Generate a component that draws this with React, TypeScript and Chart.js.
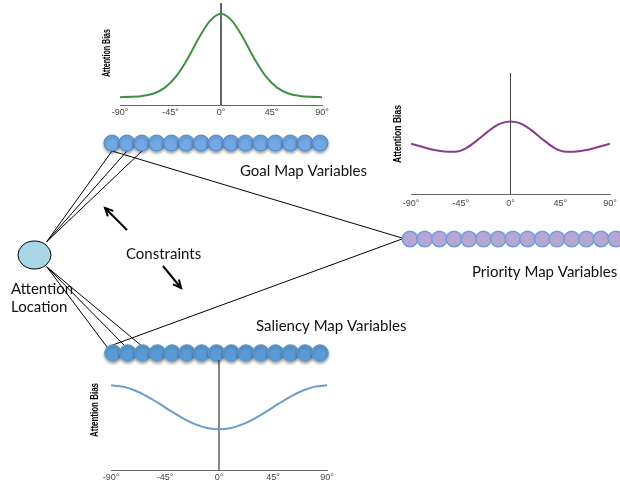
import React, { useEffect, useRef } from "react";
import { Chart, registerables } from "chart.js";
Chart.register(...registerables);

// ---------- data ----------
const angles = [-90, -80, -70, -60, -50, -40, -30, -20, -10, 0, 10, 20, 30, 40, 50, 60, 70, 80, 90];
const goalBias = [0.077, 0.08, 0.089, 0.113, 0.17, 0.28, 0.449, 0.652, 0.823, 0.894, 0.823, 0.652, 0.449, 0.28, 0.17, 0.113, 0.089, 0.08, 0.077];
const priorityBias = [0.416, 0.39, 0.365, 0.352, 0.35, 0.38, 0.445, 0.52, 0.58, 0.6, 0.58, 0.52, 0.445, 0.38, 0.35, 0.352, 0.365, 0.39, 0.416];
const saliencyBias = [0.77, 0.758, 0.723, 0.67, 0.605, 0.535, 0.47, 0.417, 0.382, 0.37, 0.382, 0.417, 0.47, 0.535, 0.605, 0.67, 0.723, 0.758, 0.77];
const tickAngles = [-90, -45, 0, 45, 90];
const axisTitle = "Attention Bias";

// diagram nodes (diagram units)
const goalNodesX = [112, 126.9, 141.7, 156.6, 171.4, 186.3, 201.1, 216, 230.9, 245.7, 260.6, 275.4, 290.3, 305.1, 320];
const goalRowY = 143;
const saliencyNodesX = [113, 127.8, 142.6, 157.4, 172.1, 186.9, 201.7, 216.5, 231.3, 246.1, 260.9, 275.6, 290.4, 305.2, 320];
const saliencyRowY = 353;
const priorityNodesX = [410, 424.7, 439.4, 454.1, 468.8, 483.5, 498.2, 512.9, 527.6, 542.3, 557, 571.7, 586.4, 601.1, 615.8];
const priorityRowY = 239;
const attentionNode = { x: 34.5, y: 255, rx: 16.5, ry: 14 };

// links: [fromX, fromY, toX, toY]
const links = [
  [46.7, 241.7, 112, 151],
  [46.7, 241.7, 127, 151],
  [46.7, 241.7, 142, 151],
  [112, 151, 402, 238],
  [46.7, 266.7, 107, 347],
  [46.7, 266.7, 126, 347],
  [46.7, 266.7, 143, 347],
  [110, 346, 402, 239],
];
const arrows = [
  [127, 230, 105, 208],
  [163, 266, 181, 288],
];
const labels = ["Goal Map Variables", "Priority Map Variables", "Saliency Map Variables", "Constraints", "Attention", "Location"];
const labelPos = [
  [240, 171],
  [472, 272],
  [256, 326],
  [126, 254],
  [11, 289],
  [11, 307],
];

const pt = (x: number, y: number) => ({ x, y });

function BackgroundDiagram() {
  const ref = useRef<HTMLCanvasElement>(null);
  useEffect(() => {
    const shadowPlugin = {
      id: "shadow",
      beforeDatasetDraw(chart: any, args: any) {
        const ds = chart.data.datasets[args.index];
        if (ds.shadow) {
          const c = chart.ctx;
          c.save();
          c.shadowColor = "rgba(0,0,0,0.35)";
          c.shadowBlur = 3;
          c.shadowOffsetY = 2;
        }
      },
      afterDatasetDraw(chart: any, args: any) {
        const ds = chart.data.datasets[args.index];
        if (ds.shadow) chart.ctx.restore();
      },
    };
    const decorPlugin = {
      id: "decor",
      afterDatasetsDraw(chart: any) {
        const c = chart.ctx;
        const xs = chart.scales.x;
        const ys = chart.scales.y;
        const px = (v: number) => xs.getPixelForValue(v);
        const py = (v: number) => ys.getPixelForValue(v);
        // attention ellipse
        c.save();
        c.beginPath();
        const sx = px(attentionNode.x + attentionNode.rx) - px(attentionNode.x);
        const sy = Math.abs(py(attentionNode.y + attentionNode.ry) - py(attentionNode.y));
        c.ellipse(px(attentionNode.x), py(attentionNode.y), sx, sy, 0, 0, Math.PI * 2);
        c.fillStyle = "#a8d8e6";
        c.fill();
        c.lineWidth = 1;
        c.strokeStyle = "#000";
        c.stroke();
        // arrow heads
        c.lineWidth = 2;
        c.lineCap = "round";
        arrows.forEach(([x0, y0, x1, y1]) => {
          const ax = px(x1), ay = py(y1);
          const ang = Math.atan2(ay - py(y0), ax - px(x0));
          const len = 8;
          c.beginPath();
          c.moveTo(ax - len * Math.cos(ang - 0.45), ay - len * Math.sin(ang - 0.45));
          c.lineTo(ax, ay);
          c.lineTo(ax - len * Math.cos(ang + 0.45), ay - len * Math.sin(ang + 0.45));
          c.stroke();
        });
        // labels
        c.fillStyle = "#111";
        c.font = "15px Lato, 'Open Sans', sans-serif";
        c.textBaseline = "middle";
        c.textAlign = "left";
        labels.forEach((t, i) => {
          c.fillText(t, px(labelPos[i][0]), py(labelPos[i][1]));
        });
        c.restore();
      },
    };
    const linkSets = links.map(([a, b, cc, d]) => ({
      data: [pt(a, b), pt(cc, d)],
      showLine: true,
      borderColor: "#000",
      borderWidth: 1,
      pointRadius: 0,
      order: 5,
    }));
    const arrowSets = arrows.map(([a, b, cc, d]) => ({
      data: [pt(a, b), pt(cc, d)],
      showLine: true,
      borderColor: "#000",
      borderWidth: 2,
      pointRadius: 0,
      order: 5,
    }));
    const chart = new Chart(ref.current!, {
      type: "scatter",
      data: {
        datasets: [
          {
            data: goalNodesX.map((x) => pt(x, goalRowY)),
            pointRadius: 8,
            backgroundColor: "#70a9e6",
            borderColor: "#4f88c8",
            borderWidth: 1,
            shadow: true,
            order: 1,
          } as any,
          {
            data: saliencyNodesX.map((x) => pt(x, saliencyRowY)),
            pointRadius: 8.3,
            backgroundColor: "#5b9bd5",
            borderColor: "#5b9bd5",
            borderWidth: 1,
            shadow: true,
            order: 1,
          },
          {
            data: priorityNodesX.map((x) => pt(x, priorityRowY)),
            pointRadius: 7.8,
            backgroundColor: "#b7a5d3",
            borderColor: "#6b9edb",
            borderWidth: 1.5,
            order: 1,
          },
          ...linkSets,
          ...arrowSets,
        ],
      },
      options: {
        responsive: false,
        animation: false,
        events: [],
        layout: { padding: 0, autoPadding: false },
        plugins: { legend: { display: false }, tooltip: { enabled: false } },
        scales: {
          x: { type: "linear", min: 0, max: 620, display: false },
          y: { type: "linear", min: 0, max: 491, reverse: true, display: false },
        },
        datasets: { scatter: { clip: false } as any },
      },
      plugins: [shadowPlugin, decorPlugin],
    } as any);
    return () => chart.destroy();
  }, []);
  return <canvas ref={ref} width={620} height={491} style={{ position: "absolute", left: 0, top: 0 }} />;
}

type CurveProps = {
  values: number[];
  color: string;
  axisColor: string;
  axisWidth: number;
  left: number;
  top: number;
  width: number;
  height: number;
  padLeft: number;
  tickPad: number;
  titleX: number;
  titleY: number;
  titleLen: number;
};

function CurveChart(p: CurveProps) {
  const ref = useRef<HTMLCanvasElement>(null);
  useEffect(() => {
    const titlePlugin = {
      id: "condensedTitle",
      afterDraw(chart: any) {
        const c = chart.ctx;
        c.save();
        c.font = "bold 11px 'Liberation Sans', Arial, sans-serif";
        const w = c.measureText(axisTitle).width;
        c.translate(p.titleX - p.left, p.titleY - p.top);
        c.rotate(-Math.PI / 2);
        c.scale(p.titleLen / w, 1);
        c.textAlign = "center";
        c.textBaseline = "middle";
        c.fillStyle = "#000";
        c.fillText(axisTitle, 0, 0);
        c.restore();
      },
    };
    const chart = new Chart(ref.current!, {
      type: "scatter",
      data: {
        datasets: [
          {
            data: angles.map((a, i) => pt(a, p.values[i])),
            showLine: true,
            borderColor: p.color,
            borderWidth: 2,
            pointRadius: 0,
            tension: 0.4,
            cubicInterpolationMode: "monotone",
          },
          {
            data: [pt(0, 0), pt(0, 1)],
            showLine: true,
            borderColor: p.axisColor,
            borderWidth: p.axisWidth,
            pointRadius: 0,
          },
        ],
      },
      options: {
        responsive: false,
        animation: false,
        events: [],
        layout: { padding: { left: p.padLeft, right: 12, top: 3, bottom: 2.2 }, autoPadding: false },
        plugins: { legend: { display: false }, tooltip: { enabled: false } },
        scales: {
          x: {
            type: "linear",
            min: -90,
            max: 90,
            afterBuildTicks: (s: any) => {
              s.ticks = tickAngles.map((v) => ({ value: v }));
            },
            ticks: {
              padding: p.tickPad,
              color: "#444",
              font: { size: 9, family: "'Liberation Sans', Arial, sans-serif" },
              callback: (v: any) => `${v}°`,
              maxRotation: 0,
            },
            grid: { display: false, drawTicks: false },
            border: { display: true, color: "#666", width: 1 },
          },
          y: {
            type: "linear",
            min: 0,
            max: 1,
            display: false,
          },
        },
      },
      plugins: [titlePlugin],
    } as any);
    return () => chart.destroy();
  }, []);
  return (
    <canvas
      ref={ref}
      width={p.width}
      height={p.height}
      style={{ position: "absolute", left: p.left, top: p.top }}
    />
  );
}

export default function App() {
  return (
    <div
      style={{
        position: "fixed",
        left: 0,
        top: 0,
        width: 620,
        height: 491,
        overflow: "hidden",
        background: "#fff",
      }}
    >
      <BackgroundDiagram />
      <CurveChart
        values={goalBias}
        color="#3f9142"
        axisColor="#666"
        axisWidth={2}
        left={90}
        top={0}
        width={244}
        height={122}
        padLeft={30}
        tickPad={2}
        titleX={107}
        titleY={53}
        titleLen={48}
      />
      <CurveChart
        values={priorityBias}
        color="#8b3a8f"
        axisColor="#444"
        axisWidth={1}
        left={381}
        top={70}
        width={241}
        height={145}
        padLeft={30}
        tickPad={4}
        titleX={398}
        titleY={134}
        titleLen={58}
      />
      <CurveChart
        values={saliencyBias}
        color="#6b9bcf"
        axisColor="#111"
        axisWidth={1}
        left={80}
        top={357}
        width={259}
        height={130}
        padLeft={31}
        tickPad={2}
        titleX={95}
        titleY={410}
        titleLen={54}
      />
    </div>
  );
}
